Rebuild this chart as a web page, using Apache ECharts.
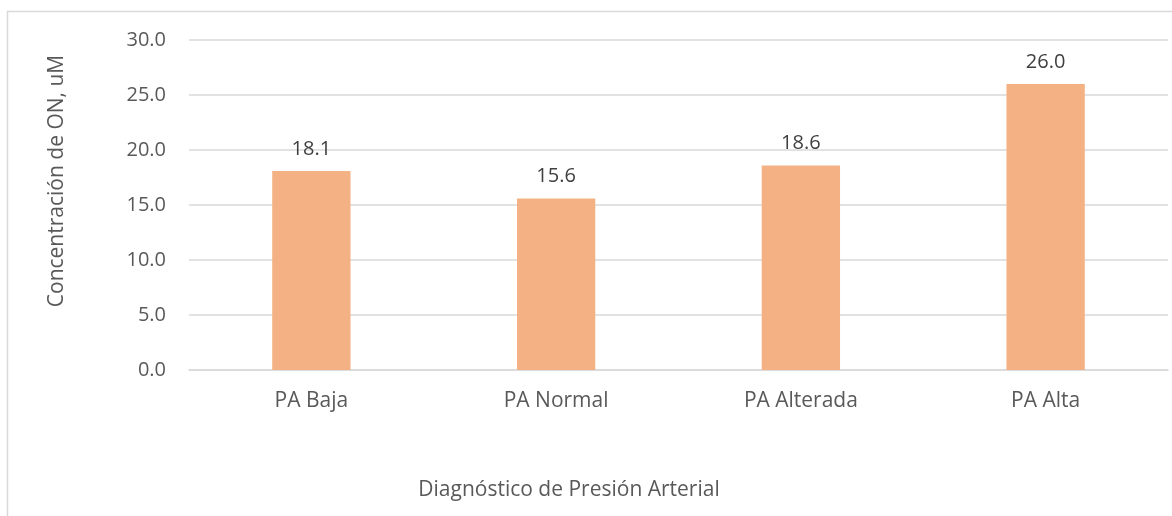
<!DOCTYPE html>
<html>
<head>
<meta charset="utf-8">
<script src="https://cdn.jsdelivr.net/npm/echarts@6/dist/echarts.min.js"></script>
<style>
  html, body { margin: 0; padding: 0; background: #ffffff; }
  #chart { width: 1172px; height: 516px; }
</style>
</head>
<body>
<div id="chart"></div>
<script>
// Diagnóstico de presión arterial vs. concentración media de óxido nítrico
const categories = ['PA Baja', 'PA Normal', 'PA Alterada', 'PA Alta'];
const concentrations = [18.1, 15.6, 18.6, 26.0];
const yTicks = { min: 0, max: 30, interval: 5 };
const xTitle = 'Diagnóstico de Presión Arterial';
const yTitle = 'Concentración de ON, uM';

const FONT = '"Open Sans", sans-serif';
const TEXT = '#595959';

const chart = echarts.init(document.getElementById('chart'), null, { renderer: 'canvas' });

chart.setOption({
  animation: false,
  backgroundColor: '#ffffff',
  grid: { left: 189, right: 4, top: 40, bottom: 146, containLabel: false },
  xAxis: {
    type: 'category',
    data: categories,
    axisLine: { show: true, lineStyle: { color: '#D9D9D9', width: 1.5 } },
    axisTick: { show: false },
    axisLabel: { color: TEXT, fontFamily: FONT, fontSize: 21, margin: 21 }
  },
  yAxis: {
    type: 'value',
    min: yTicks.min,
    max: yTicks.max,
    interval: yTicks.interval,
    axisLine: { show: false },
    axisTick: { show: false },
    splitLine: { lineStyle: { color: '#D9D9D9', width: 1.5 } },
    axisLabel: {
      color: TEXT, fontFamily: FONT, fontSize: 20, margin: 23,
      formatter: v => v.toFixed(1)
    }
  },
  series: [{
    type: 'bar',
    data: concentrations,
    barWidth: '32%',
    itemStyle: { color: '#F4B183' },
    label: {
      show: true,
      position: 'top',
      distance: 12,
      color: '#404040',
      fontFamily: FONT,
      fontSize: 20,
      formatter: p => p.value.toFixed(1)
    }
  }],
  graphic: [
    {
      type: 'rect',
      shape: { x: 7.5, y: 11.5, width: 1300, height: 700 },
      style: { fill: 'none', stroke: '#D9D9D9', lineWidth: 1.5 },
      silent: true
    },
    {
      type: 'text',
      x: 569, y: 490,
      style: {
        text: xTitle, fill: TEXT, font: '21px ' + FONT,
        align: 'center', verticalAlign: 'middle'
      }
    },
    {
      type: 'text',
      x: 57, y: 181,
      rotation: Math.PI / 2,
      style: {
        text: yTitle, fill: TEXT, font: '21px ' + FONT,
        align: 'center', verticalAlign: 'middle'
      }
    }
  ]
});
</script>
</body>
</html>
